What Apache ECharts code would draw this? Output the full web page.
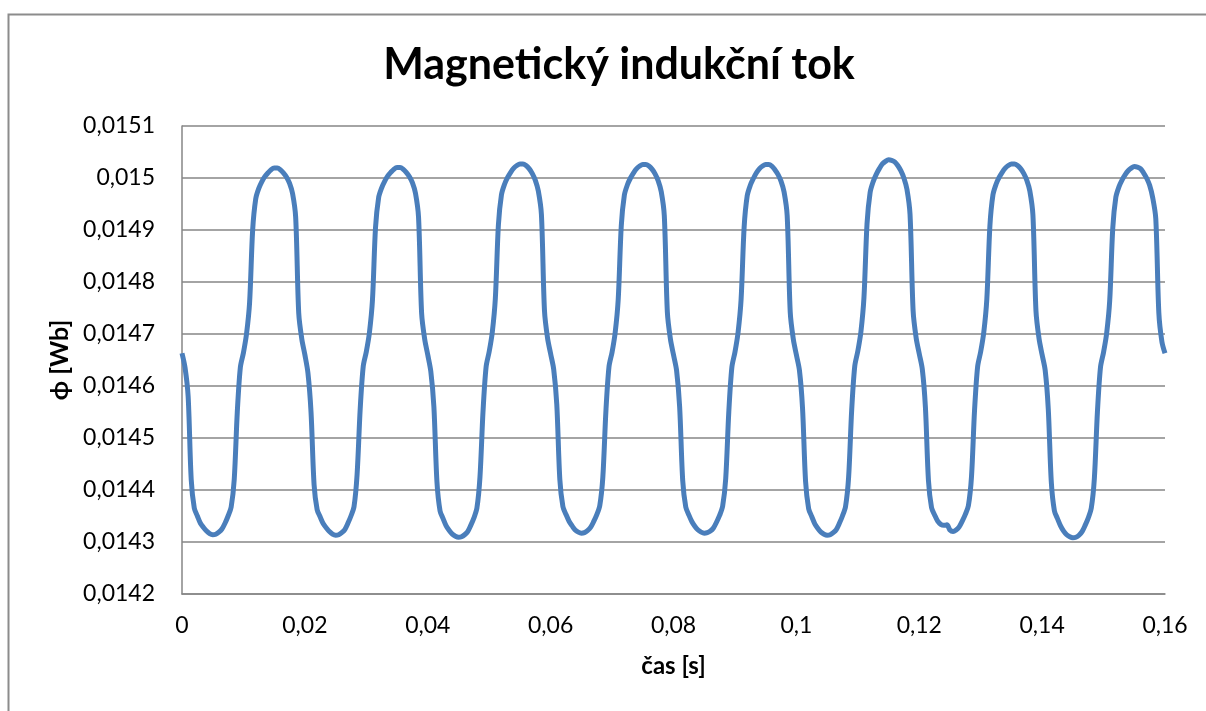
<!DOCTYPE html>
<html>
<head>
<meta charset="utf-8">
<title>Magnetický indukční tok</title>
<script src="https://cdn.jsdelivr.net/npm/echarts@6/dist/echarts.min.js"></script>
<style>
  html, body { margin: 0; padding: 0; background: #fff; }
  #main { width: 1206px; height: 711px; }
</style>
</head>
<body>
<div id="main"></div>
<script>
// sampling step of the measured signal [s]
const dt = 0.0005;

// flux values [Wb], one array per 20 ms period
const cycle1 = [0.014663,0.014635,0.01458,0.01442,0.014365,0.01435,0.014336,0.014328,0.014321,0.014316,0.014314,0.014315,0.014319,0.014325,0.014336,0.01435,0.014367,0.01442,0.01455,0.014636,0.014664,0.0147,0.01476,0.0149,0.01496,0.01498,0.014993,0.015003,0.01501,0.015016,0.015019,0.015019,0.015016,0.01501,0.015002,0.01499,0.01497,0.014925,0.01474,0.01469];
const cycle2 = [0.01466,0.014625,0.01455,0.01441,0.014362,0.014348,0.014335,0.014327,0.01432,0.014315,0.014313,0.014314,0.014318,0.014324,0.014336,0.01435,0.014368,0.01443,0.014555,0.014638,0.014666,0.014702,0.014765,0.014905,0.014962,0.014981,0.014994,0.015004,0.015011,0.015017,0.01502,0.01502,0.015017,0.015011,0.015003,0.014991,0.014971,0.014925,0.01474,0.01469];
const cycle3 = [0.01466,0.014628,0.01456,0.014415,0.01436,0.014345,0.014331,0.014322,0.014315,0.014311,0.014309,0.01431,0.014314,0.01432,0.014332,0.014346,0.014365,0.014425,0.014552,0.014637,0.014666,0.014703,0.014768,0.01491,0.014968,0.014988,0.015001,0.015011,0.015019,0.015024,0.015027,0.015027,0.015024,0.015018,0.015009,0.014996,0.014975,0.01493,0.014745,0.014692];
const cycle4 = [0.014662,0.014632,0.014565,0.01442,0.014368,0.014353,0.01434,0.014331,0.014323,0.014319,0.014317,0.014318,0.014322,0.014328,0.014339,0.014352,0.01437,0.014425,0.014552,0.014637,0.014665,0.014702,0.014766,0.014908,0.014967,0.014987,0.015,0.01501,0.015018,0.015023,0.015026,0.015026,0.015023,0.015017,0.015008,0.014995,0.014974,0.014928,0.014742,0.01469];
const cycle5 = [0.01466,0.01463,0.01456,0.014418,0.014367,0.014352,0.014339,0.01433,0.014323,0.014319,0.014317,0.014318,0.014321,0.014327,0.014338,0.014351,0.014369,0.014422,0.01455,0.014636,0.014665,0.014702,0.014766,0.014906,0.014966,0.014986,0.014999,0.01501,0.015018,0.015023,0.015026,0.015026,0.015023,0.015016,0.015007,0.014994,0.014973,0.014928,0.014742,0.01469];
const cycle6 = [0.01466,0.01463,0.014558,0.014416,0.014364,0.014349,0.014335,0.014326,0.014319,0.014315,0.014313,0.014314,0.014318,0.014324,0.014336,0.01435,0.014368,0.014424,0.014553,0.014638,0.014667,0.014704,0.01477,0.014912,0.014972,0.014993,0.015007,0.015018,0.015027,0.015032,0.015035,0.015034,0.015031,0.015024,0.015014,0.015,0.014978,0.01493,0.014745,0.014692];
const cycle7 = [0.014662,0.014632,0.01456,0.014418,0.014366,0.014352,0.01434,0.014334,0.014332,0.014333,0.014323,0.01432,0.014323,0.014329,0.01434,0.014353,0.01437,0.014425,0.014553,0.014637,0.014666,0.014703,0.014767,0.014908,0.014968,0.014988,0.015001,0.015011,0.015019,0.015024,0.015027,0.015027,0.015024,0.015018,0.015009,0.014996,0.014975,0.014929,0.014744,0.014691];
const cycle8 = [0.01466,0.01463,0.014556,0.014414,0.01436,0.014345,0.014331,0.014321,0.014314,0.01431,0.014308,0.014309,0.014313,0.01432,0.014332,0.014346,0.014365,0.014422,0.01455,0.014636,0.014665,0.014701,0.014764,0.014904,0.014963,0.014983,0.014996,0.015006,0.015014,0.015019,0.015022,0.015021,0.015018,0.01501,0.015,0.014986,0.014962,0.014922,0.01474,0.014685];
const lastValue = [0.014663]; // sample at t = 0.16 s

// axis ticks
const xTicks = [0, 0.02, 0.04, 0.06, 0.08, 0.1, 0.12, 0.14, 0.16];
const yTicks = [0.0142, 0.0143, 0.0144, 0.0145, 0.0146, 0.0147, 0.0148, 0.0149, 0.015, 0.0151];

const allValues = [].concat(cycle1, cycle2, cycle3, cycle4, cycle5, cycle6, cycle7, cycle8, lastValue);
const seriesData = allValues.map((v, i) => [+(i * dt).toFixed(4), v]);

const font = 'Lato, "Open Sans", sans-serif';
const comma = (v, d) => String(+v.toFixed(d)).replace('.', ',');

const chart = echarts.init(document.getElementById('main'), null, { renderer: 'canvas' });
const option = {
  backgroundColor: '#fff',
  animation: false,
  title: {
    text: 'Magnetický indukční tok',
    left: 614,
    top: 39,
    textAlign: 'center',
    textStyle: { fontFamily: font, fontWeight: 'bold', fontSize: 43, color: '#000' }
  },
  graphic: [{
    type: 'rect',
    shape: { x: 8.5, y: 14.5, width: 1400, height: 900 },
    style: { fill: 'none', stroke: '#8c8c8c', lineWidth: 2 },
    silent: true
  }],
  grid: { left: 182, right: 41, top: 126, bottom: 117 },
  xAxis: {
    type: 'value',
    min: xTicks[0],
    max: xTicks[xTicks.length - 1],
    interval: 0.02,
    name: 'čas [s]',
    nameLocation: 'middle',
    nameGap: 60,
    nameTextStyle: { fontFamily: font, fontWeight: 'bold', fontSize: 24, color: '#000' },
    axisLine: { show: true, lineStyle: { color: '#868686', width: 1.5 } },
    axisTick: { show: false },
    splitLine: { show: false },
    axisLabel: {
      margin: 20,
      fontFamily: font, fontSize: 23, color: '#000',
      formatter: v => comma(v, 2)
    }
  },
  yAxis: {
    type: 'value',
    min: yTicks[0],
    max: yTicks[yTicks.length - 1],
    interval: 0.0001,
    name: 'ϕ [Wb]',
    nameLocation: 'middle',
    nameGap: 110,
    nameTextStyle: { fontFamily: font, fontWeight: 'bold', fontSize: 25, color: '#000' },
    axisLine: { show: true, lineStyle: { color: '#868686', width: 1.5 } },
    axisTick: { show: false },
    splitLine: { show: true, lineStyle: { color: '#868686', width: 1.5 } },
    axisLabel: {
      margin: 27,
      fontFamily: font, fontSize: 23, color: '#000',
      formatter: v => comma(v, 4)
    }
  },
  series: [{
    type: 'line',
    data: seriesData,
    showSymbol: false,
    smooth: 0.3,
    lineStyle: { color: '#4a7ebb', width: 5 },
    itemStyle: { color: '#4a7ebb' }
  }]
};
chart.setOption(option);
</script>
</body>
</html>
